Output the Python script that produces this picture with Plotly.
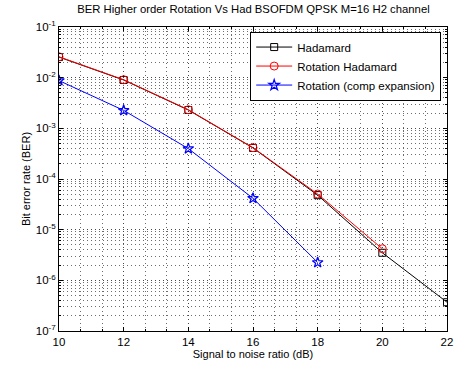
import plotly.graph_objects as go

snr_had = [10, 12, 14, 16, 18, 20, 22]
ber_had = [0.0255, 0.0090, 0.00230, 4.1e-4, 4.8e-5, 3.5e-6, 3.7e-7]

snr_rot = [10, 12, 14, 16, 18, 20]
ber_rot = [0.0258, 0.0091, 0.00233, 4.15e-4, 5.05e-5, 4.2e-6]

snr_comp = [10, 12, 14, 16, 18]
ber_comp = [0.00875, 0.00226, 3.98e-4, 4.16e-5, 2.25e-6]

ytick_vals = [1e-7, 1e-6, 1e-5, 1e-4, 1e-3, 1e-2, 1e-1]
ytick_text = ["10<sup>-7</sup>", "10<sup>-6</sup>", "10<sup>-5</sup>", "10<sup>-4</sup>",
              "10<sup>-3</sup>", "10<sup>-2</sup>", "10<sup>-1</sup>"]
xtick_vals = [10, 12, 14, 16, 18, 20, 22]

FONT = "Liberation Sans, Arial, sans-serif"

fig = go.Figure()
fig.add_trace(go.Scatter(x=snr_had, y=ber_had, name="Hadamard", mode="lines+markers",
                         line=dict(color="black", width=1),
                         marker=dict(symbol="square-open", size=7, color="black", line=dict(width=1))))
fig.add_trace(go.Scatter(x=snr_rot, y=ber_rot, name="Rotation Hadamard", mode="lines+markers",
                         line=dict(color="#ff0000", width=1),
                         marker=dict(symbol="circle-open", size=8, color="#ff0000", line=dict(width=1))))
fig.add_trace(go.Scatter(x=snr_comp, y=ber_comp, name="Rotation (comp expansion)", mode="lines+markers",
                         line=dict(color="#0000ff", width=1),
                         marker=dict(symbol="star-open", size=8, color="#0000ff", line=dict(width=1.2))))

grid_col = "rgba(60,60,60,0.75)"
grid_dash = "1px,3px"
fig.update_layout(
    width=465, height=369,
    margin=dict(l=59, r=16, t=27, b=36),
    paper_bgcolor="white", plot_bgcolor="white",
    font=dict(family=FONT, size=11, color="black"),
    title=dict(text="BER Higher order Rotation Vs Had BSOFDM QPSK M=16 H2 channel",
               x=0.545, xanchor="center", y=0.985, yanchor="top",
               font=dict(family=FONT, size=11.3, color="black")),
    showlegend=True,
    legend=dict(x=0.985, y=0.985, xanchor="right", yanchor="top",
                bgcolor="white", bordercolor="black", borderwidth=1,
                font=dict(family=FONT, size=11.5), tracegroupgap=0,
                itemwidth=36),
    xaxis=dict(range=[10, 22], tickvals=xtick_vals, showline=True, mirror="ticks",
               linecolor="black", linewidth=1, ticks="inside", ticklen=4, tickcolor="black",
               showgrid=True, gridcolor=grid_col, griddash=grid_dash, gridwidth=1,
               zeroline=False,
               minor=dict(dtick=2/3, tick0=10, showgrid=True, gridcolor=grid_col,
                          griddash=grid_dash, gridwidth=1, ticks="inside", ticklen=2, tickcolor="black"),
               title=dict(text="Signal to noise ratio (dB)", standoff=2,
                          font=dict(family=FONT, size=11)),
               tickfont=dict(family=FONT, size=11.5)),
    yaxis=dict(type="log", range=[-7, -1], tickvals=ytick_vals, ticktext=ytick_text,
               showline=True, mirror="ticks", linecolor="black", linewidth=1,
               ticks="inside", ticklen=4, tickcolor="black",
               showgrid=True, gridcolor=grid_col, griddash=grid_dash, gridwidth=1,
               zeroline=False,
               minor=dict(dtick="D1", showgrid=True, gridcolor=grid_col, griddash=grid_dash,
                          gridwidth=1, ticks="inside", ticklen=2, tickcolor="black"),
               title=dict(text="Bit error rate (BER)", standoff=2,
                          font=dict(family=FONT, size=11)),
               tickfont=dict(family=FONT, size=11.5)),
)

fig.write_html("out.html")
